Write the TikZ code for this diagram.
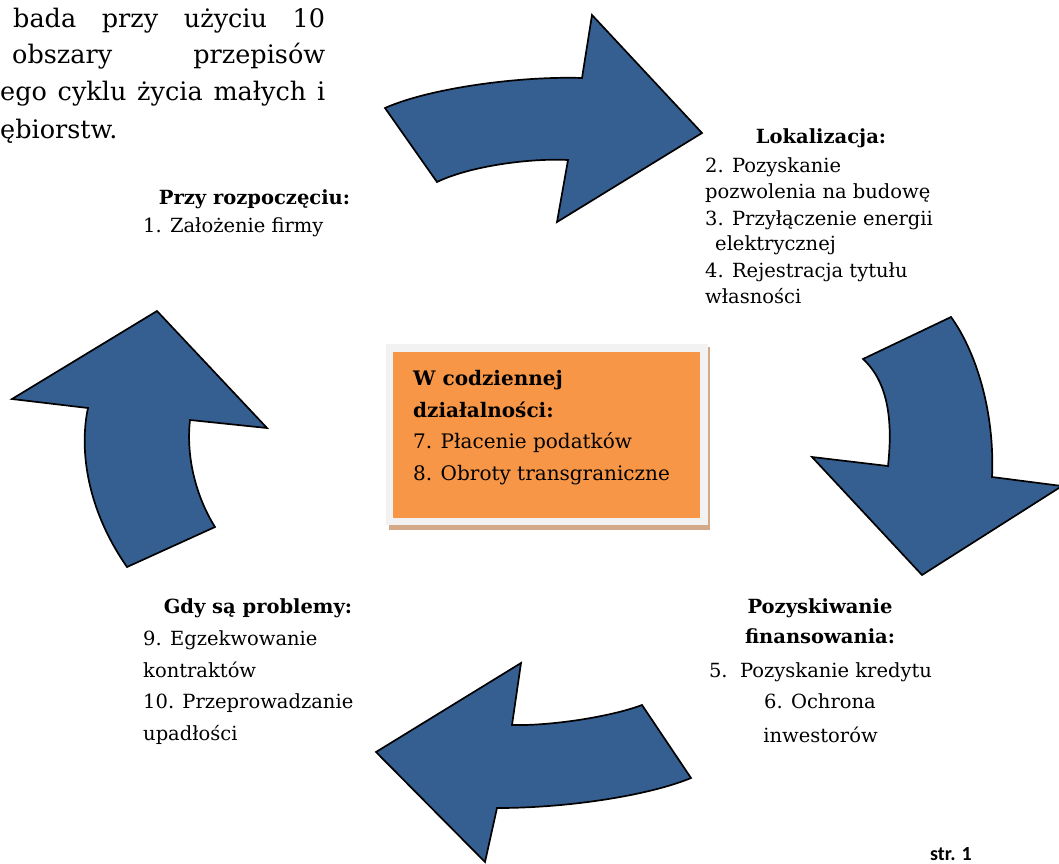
\documentclass[tikz,border=0pt]{standalone}
\usepackage{fontspec}
\setmainfont{DejaVu Serif}
\newfontfamily\strfont{Carlito}
\definecolor{arrowblue}{HTML}{365F91}
\definecolor{boxorange}{HTML}{F79646}
\definecolor{boxframe}{HTML}{F2F2F2}
\definecolor{boxshadow}{HTML}{D4A98A}
\begin{document}
\begin{tikzpicture}[x=1pt,y=-1pt,
  arrowshape/.style={fill=arrowblue, draw=black, line width=1.7pt, line join=miter},
  hdr/.style={inner sep=0pt, font=\fontsize{25.5}{30}\selectfont},
  lbl/.style={inner sep=0pt, font=\fontsize{19.5}{24}\selectfont},
  lblb/.style={inner sep=0pt, font=\fontsize{19.5}{24}\selectfont\bfseries},
  boxtxt/.style={inner sep=0pt, anchor=base west, font=\fontsize{20}{24}\selectfont},
  boxtxtb/.style={inner sep=0pt, anchor=base west, font=\fontsize{20}{24}\selectfont\bfseries}]
\useasboundingbox (0,0) rectangle (1059,863);
\clip (0,0) rectangle (1059,863);
\fill[white] (0,0) rectangle (1059,863);

% header text (justified, cut at the left edge)
\node[hdr, anchor=base west] (h1) at (13,27) {\hbox to 312pt{bada\hfill przy\hfill użyciu\hfill 10}};
\node[hdr, anchor=base west] (h2) at (12,63) {\hbox to 313pt{obszary\hfill przepisów}};
\node[hdr, anchor=base west] (h3) at (0,100) {\hbox to 325pt{ego cyklu życia małych i}};
\node[hdr, anchor=base west] (h4) at (0,138) {ębiorstw.};

% top arrow
\path[arrowshape] (385,108) .. controls (430,88) and (520,76) .. (582,78)
  -- (592,15) -- (702,133) -- (557,222) -- (568,160)
  .. controls (530,158) and (470,166) .. (437,182) -- cycle;
% right arrow
\path[arrowshape] (863,359) -- (951,317)
  .. controls (975,350) and (995,410) .. (992,477)
  -- (1062,486) -- (922,575) -- (812,457) -- (888,466)
  .. controls (893,420) and (888,382) .. (863,359) -- cycle;
% bottom arrow
\path[arrowshape] (642,705) .. controls (610,717) and (550,726) .. (512,725)
  -- (521,663) -- (376,752) -- (485,862) -- (497,808)
  .. controls (570,808) and (650,795) .. (691,778) -- cycle;
% left arrow
\path[arrowshape] (215,527) .. controls (195,495) and (186,455) .. (190,420)
  -- (267,428) -- (157,311) -- (12,399) -- (88,408)
  .. controls (80,445) and (84,505) .. (127,567) -- cycle;

% central box
\fill[boxshadow] (389,347) rectangle (710,530);
\fill[boxframe] (386,344) rectangle (708,525);
\fill[boxorange] (393,352) rectangle (700,518);
\node[boxtxtb] (c1) at (413,385) {W codziennej};
\node[boxtxtb] (c2) at (413,417) {działalności:};
\node[boxtxt] (c3) at (413,448) {7. Płacenie podatków};
\node[boxtxt] (c4) at (413,480) {8. Obroty transgraniczne};

% Przy rozpoczęciu
\node[lblb, anchor=base] (a0) at (254.5,204) {Przy rozpoczęciu:};
\node[lbl, anchor=base west] (a1) at (143,232) {1. Założenie firmy};

% Lokalizacja
\node[lblb, anchor=base] (b0) at (821,143) {Lokalizacja:};
\node[lbl, anchor=base west] (b1) at (705,172) {2. Pozyskanie};
\node[lbl, anchor=base west] (b2) at (705,198) {pozwolenia na budowę};
\node[lbl, anchor=base west] (b3) at (705,225) {3. Przyłączenie energii};
\node[lbl, anchor=base west] (b4) at (715,250) {elektrycznej};
\node[lbl, anchor=base west] (b5) at (705,277) {4. Rejestracja tytułu};
\node[lbl, anchor=base west] (b6) at (705,303) {własności};

% Pozyskiwanie finansowania
\node[lblb, anchor=base] (d0) at (820,613) {Pozyskiwanie};
\node[lblb, anchor=base] (d1) at (820,643) {finansowania:};
\node[lbl, anchor=base] (d2) at (820.5,677) {5.\ \ Pozyskanie kredytu};
\node[lbl, anchor=base] (d3) at (820,708) {6. Ochrona};
\node[lbl, anchor=base] (d4) at (820.5,742) {inwestorów};

% Gdy są problemy
\node[lblb, anchor=base] (e0) at (258,613) {Gdy są problemy:};
\node[lbl, anchor=base west] (e1) at (143,645) {9. Egzekwowanie};
\node[lbl, anchor=base west] (e2) at (143,677) {kontraktów};
\node[lbl, anchor=base west] (e3) at (143,708) {10. Przeprowadzanie};
\node[lbl, anchor=base west] (e4) at (143,740) {upadłości};

% page number at the bottom edge
\node[inner sep=0pt, anchor=base west, font=\strfont\bfseries\fontsize{20}{24}\selectfont] (pg) at (930,860) {str. 1};
\end{tikzpicture}
\end{document}
